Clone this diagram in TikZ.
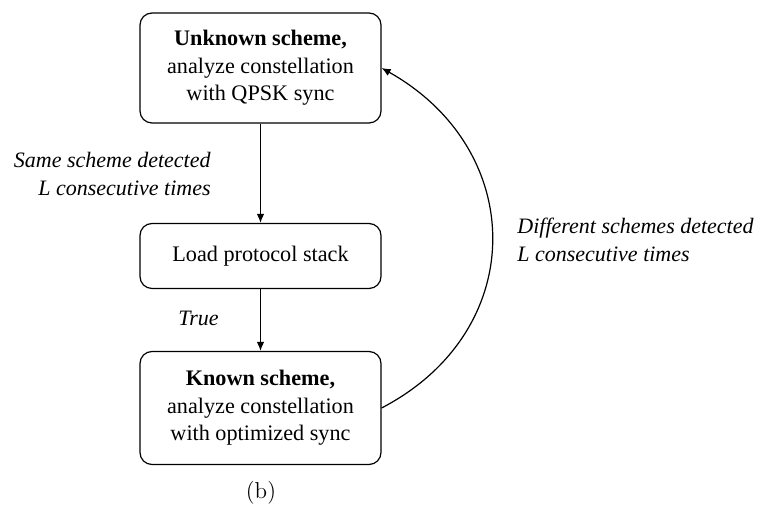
\documentclass[tikz,border=0pt]{standalone}
\usepackage{fontspec}
\usepackage{tikz}
\usetikzlibrary{
    positioning,
    arrows.meta
}
\newfontfamily\timesfont{Liberation Serif}

\tikzset{
    statebox/.style={
        draw,
        rounded corners=6pt,
        line width=0.6pt,
        minimum width=120.5pt,
        align=center,
        font=\timesfont\fontsize{11.1}{13.75}\selectfont
    },
    flow/.style={
        -{Latex[length=4.5pt,width=3.8pt]},
        line width=0.6pt
    },
    condlabel/.style={
        font=\timesfont\itshape\fontsize{11}{13.75}\selectfont,
        inner sep=0pt
    }
}

\begin{document}
\begin{tikzpicture}[x=0.5pt,y=-0.5pt]
    \useasboundingbox (0,0) rectangle (762,512);
    % states
    \node[statebox, minimum height=55pt] (unknown) at (260.5,68)
        {{\bfseries Unknown scheme,}\\analyze constellation\\with QPSK sync};
    \node[statebox, minimum height=32.5pt] (load) at (260.5,256)
        {Load protocol stack};
    \node[statebox, minimum height=56.5pt] (known) at (260.5,408)
        {{\bfseries Known scheme,}\\analyze constellation\\with optimized sync};
    % transitions
    \draw[flow] (unknown) -- (load);
    \draw[flow] (load) -- (known);
    \draw[flow] (known.east) .. controls +(148,-77) and +(146,82) .. (unknown.east);
    % conditions
    \node[condlabel, align=right, anchor=east] (same) at (211,174)
        {Same scheme detected\\L consecutive times};
    \node[condlabel, anchor=east] (true) at (219,318) {True};
    \node[condlabel, align=left, anchor=west] (diff) at (517,240)
        {Different schemes detected\\L consecutive times};
    % caption
    \node[font=\fontsize{11.5}{13}\selectfont] (caption) at (261,493) {(b)};
\end{tikzpicture}
\end{document}
